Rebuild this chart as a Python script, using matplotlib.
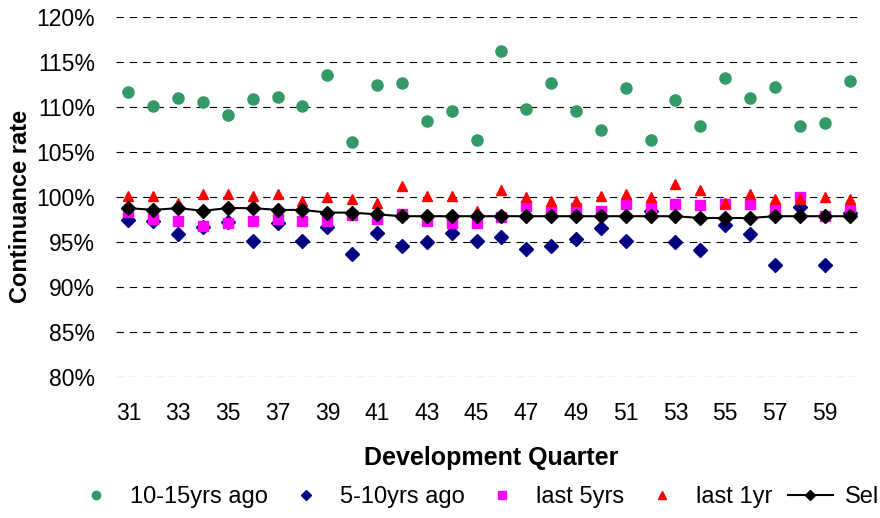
import matplotlib
matplotlib.use("Agg")
import matplotlib.pyplot as plt
from matplotlib.ticker import FuncFormatter

# Data
quarters = list(range(31, 61))

ago_10_15 = [111.7, 110.2, 111.0, 110.6, 109.2, 110.9, 111.2, 110.2, 113.6, 106.2,
             112.5, 112.7, 108.5, 109.6, 106.4, 116.3, 109.8, 112.7, 109.6, 107.5,
             112.1, 106.4, 110.8, 107.9, 113.3, 111.0, 112.3, 107.9, 108.3, 112.9]

ago_5_10 = [97.5, 97.4, 95.9, 96.7, 97.3, 95.2, 97.1, 95.2, 96.7, 93.7,
            96.0, 94.6, 95.0, 96.0, 95.2, 95.6, 94.3, 94.6, 95.4, 96.6,
            95.2, 98.5, 95.0, 94.2, 96.9, 95.9, 92.5, 98.9, 92.5, 98.3]

last_5yrs = [98.4, 97.6, 97.4, 96.8, 97.2, 97.4, 97.6, 97.4, 97.4, 98.0,
             97.6, 98.2, 97.4, 97.2, 97.2, 97.8, 99.0, 98.5, 98.8, 98.5,
             99.3, 98.9, 99.3, 99.1, 99.3, 99.3, 98.7, 100.0, 97.9, 98.6]

last_1yr = [100.2, 100.2, 99.4, 100.4, 100.4, 100.2, 100.4, 99.6, 100.0, 99.8,
            99.4, 101.3, 100.2, 100.2, 98.5, 100.8, 100.0, 99.6, 99.6, 100.2,
            100.4, 100.0, 101.5, 100.8, 99.4, 100.4, 99.8, 99.8, 100.0, 99.8]

sel = [98.8, 98.6, 98.8, 98.5, 98.8, 98.8, 98.6, 98.6, 98.3, 98.3,
       98.1, 97.9, 97.9, 97.9, 97.9, 97.9, 97.9, 97.9, 97.9, 97.9,
       97.9, 97.9, 97.9, 97.7, 97.7, 97.7, 97.9, 97.9, 97.9, 97.9]

plt.rcParams['font.family'] = ['Liberation Sans', 'DejaVu Sans']
plt.rcParams['lines.scale_dashes'] = False

fig = plt.figure(figsize=(8.8, 5.18), dpi=100)
ax = fig.add_axes([0.1318, 0.2716, 0.8477, 0.695])

# Series in dezelfde volgorde als in Excel
ax.plot(quarters, ago_10_15, 'o', color='#339966', markersize=8, label='10-15yrs ago')
ax.plot(quarters, ago_5_10, 'D', color='#000080', markersize=7, label='5-10yrs ago')
ax.plot(quarters, last_5yrs, 's', color='#FF00FF', markersize=7.5, label='last 5yrs')
ax.plot(quarters, last_1yr, '^', color='#FF0000', markersize=7, label='last 1yr')
ax.plot(quarters, sel, '-D', color='black', linewidth=1.5, markersize=7, label='Sel')

ax.set_xlim(30.5, 60.5)
ax.set_ylim(80, 120)
ax.set_yticks(range(80, 121, 5))
ax.yaxis.set_major_formatter(FuncFormatter(lambda v, p: f"{v:.0f}%"))
ax.set_xticks(quarters[::2])

ax.grid(axis='y', linestyle=(0, (5.3, 4.3)), color='black', linewidth=0.8)
ax.set_axisbelow(True)
for spine in ax.spines.values():
    spine.set_visible(False)

ax.tick_params(axis='y', length=0, pad=15, labelsize=16.5)
ax.tick_params(axis='x', length=0, pad=18, labelsize=16.5)

fig.text(0.558, 0.116, "Development Quarter", ha='center', va='center',
         fontsize=18, fontweight='bold')
fig.text(0.023, 0.602, "Continuance rate", ha='center', va='center',
         rotation=90, fontsize=17, fontweight='bold')

fig.legend(loc='center', bbox_to_anchor=(0.541, 0.04), ncol=5, frameon=False,
           fontsize=17, handlelength=1.9, handletextpad=0.5, columnspacing=0.64,
           markerscale=0.75, borderaxespad=0, borderpad=0)

plt.savefig("out.png")
